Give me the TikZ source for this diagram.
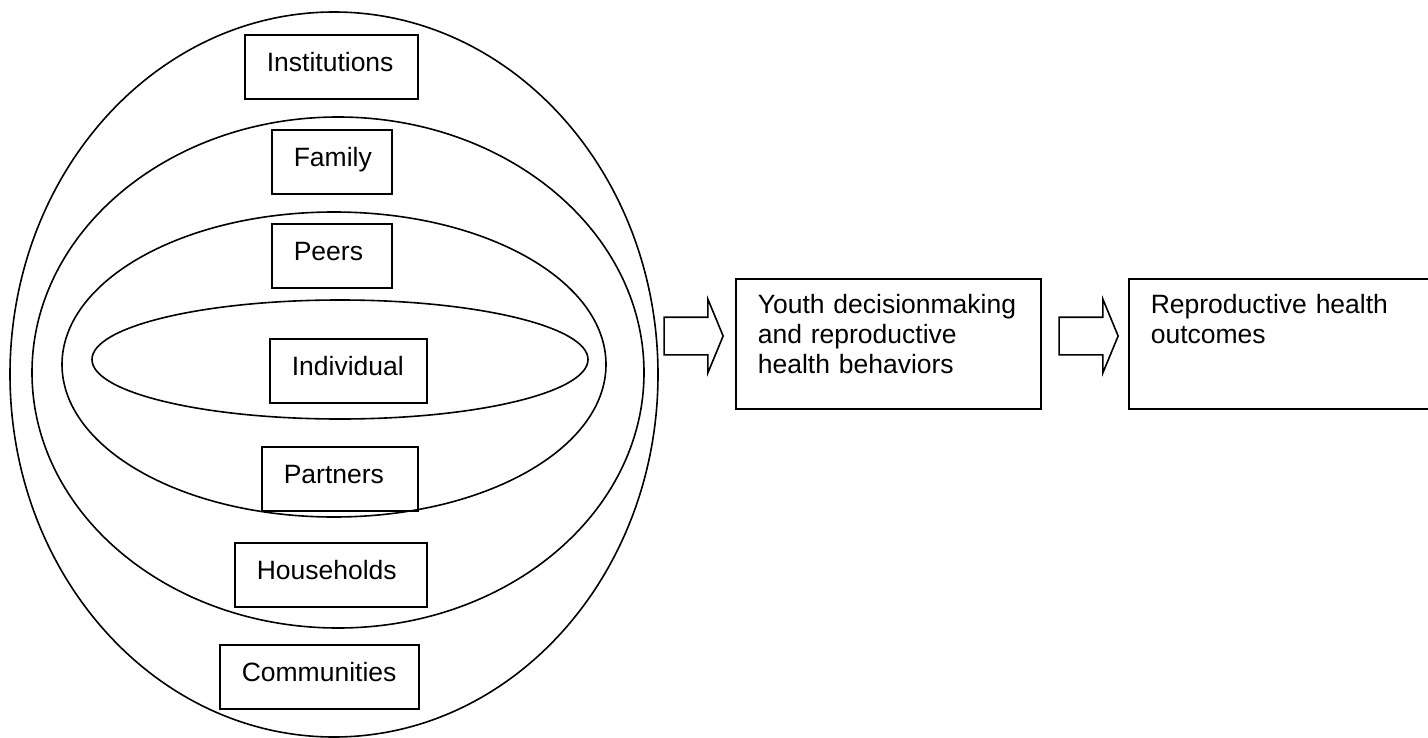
\documentclass[tikz,border=0pt]{standalone}
\usepackage{fontspec}
\setmainfont{Liberation Sans}
\usetikzlibrary{shapes.arrows}
\begin{document}
\begin{tikzpicture}[x=0.5pt, y=-0.5pt, line width=0.8pt,
		font=\fontsize{13.25pt}{15pt}\selectfont,
		layerbox/.style={draw, anchor=north west, inner xsep=11pt, inner ysep=0pt,
			text height=18.5pt, text depth=13.5pt, align=left},
		outbox/.style={draw, anchor=north west, inner xsep=11pt, inner ysep=0pt,
			text height=17.5pt, text depth=47.5pt, align=left},
		blockarrow/.style={single arrow, draw, anchor=tip, inner sep=0pt,
			text height=9pt, text depth=9pt, minimum width=36pt, minimum height=29.5pt,
			single arrow head extend=9pt, single arrow tip angle=135}
		]
		\useasboundingbox (0,0) rectangle (1428,738);
		% nested spheres of influence
		\draw (334,374.5) ellipse [x radius=162pt, y radius=181.25pt];
		\draw (338,372.5) ellipse [x radius=153pt, y radius=127.75pt];
		\draw (334,364.5) ellipse [x radius=136pt, y radius=76.25pt];
		\draw (340,359.5) ellipse [x radius=124pt, y radius=29.75pt];
		\node[layerbox, text width=64.5pt](L0) at (244,34){Institutions};
		\node[layerbox, text width=38pt](L1) at (271,129){Family};
		\node[layerbox, text width=38pt](L2) at (271,223){Peers};
		\node[layerbox, text width=56.5pt](L3) at (269,338){Individual};
		\node[layerbox, text width=56pt](L4) at (261,446){Partners};
		\node[layerbox, text width=74pt](L5) at (234,542){Households};
		\node[layerbox, text width=77.5pt](L6) at (219,644){Communities};
		% outcomes
		\node[outbox, text width=130.5pt](O1) at (735,278){Youth decisionmaking\\and reproductive\\health behaviors};
		\node[outbox, text width=129pt](O2) at (1128,278){Reproductive health\\outcomes};
		\node[blockarrow](A1) at (724,336){};
		\node[blockarrow](A2) at (1119,336){};
\end{tikzpicture}
\end{document}
